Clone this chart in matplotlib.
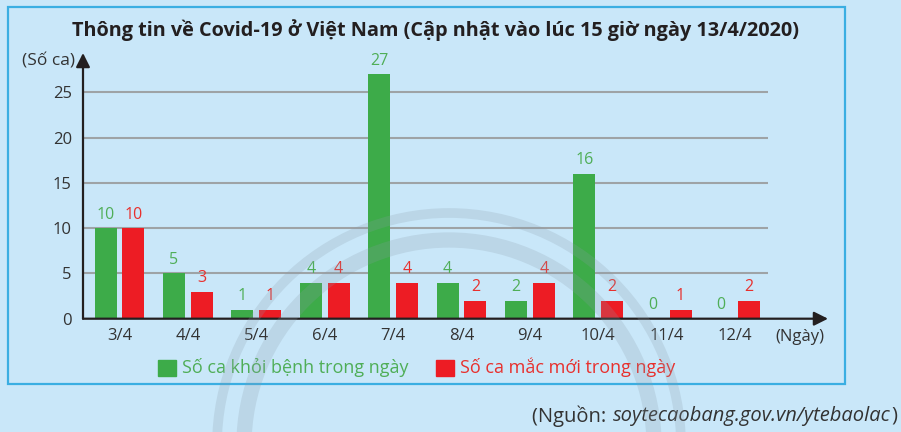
import matplotlib
matplotlib.use("Agg")
import matplotlib.pyplot as plt
import numpy as np
from matplotlib.patches import Rectangle, Circle

# Dữ liệu
days = ["3/4", "4/4", "5/4", "6/4", "7/4", "8/4", "9/4", "10/4", "11/4", "12/4"]
recovered = [10, 5, 1, 4, 27, 4, 2, 16, 0, 0]
new_cases = [10, 3, 1, 4, 4, 2, 4, 2, 1, 2]
y_ticks = [0, 5, 10, 15, 20, 25]

title = "Thông tin về Covid-19 ở Việt Nam (Cập nhật vào lúc 15 giờ ngày 13/4/2020)"
label_rec = "Số ca khỏi bệnh trong ngày"
label_new = "Số ca mắc mới trong ngày"

BG = "#c9e7f9"
GREEN = "#3dab49"
RED = "#ed1c24"
GREEN_TXT = "#4fae57"
RED_TXT = "#e8302d"
DARK = "#231f20"
TXT = "#333333"

plt.rcParams["font.family"] = ["Open Sans", "DejaVu Sans"]

W, H = 901, 432
fig = plt.figure(figsize=(W / 100, H / 100), dpi=100, facecolor=BG)


def fx(px):
    return px / W


def fy(py):
    return 1 - py / H


# vùng trục: x=0 tại nhóm đầu (px 119.5), 68.4 px / nhóm; y: 0 tại px 318.7, 9.05 px / ca
x0_px, step = 119.5, 68.4
left_px, right_px = 83, 830
y0_px, unit = 318.7, 9.05
top_px = 53
ax = fig.add_axes([fx(left_px), fy(y0_px), (right_px - left_px) / W, (y0_px - top_px) / H])
ax.set_facecolor("none")
ax.set_xlim((left_px - x0_px) / step, (right_px - x0_px) / step)
ax.set_ylim(0, (y0_px - top_px) / unit)
for s in ax.spines.values():
    s.set_visible(False)

x = np.arange(len(days))
bw = 22 / step
off = 13.9 / step

# đường lưới
grid_end = (768 - x0_px) / step
ax.hlines(y_ticks[1:], ax.get_xlim()[0], grid_end, color="#9ea3a6", lw=1.5, zorder=1)

ax.bar(x - off, recovered, bw, color=GREEN, zorder=3)
ax.bar(x + off, new_cases, bw, color=RED, zorder=3)

for xi, v in zip(x, recovered):
    ax.annotate(str(v), (xi - off, v), xytext=(0, 4), textcoords="offset points",
                ha="center", va="bottom", fontsize=11.5, color=GREEN_TXT, zorder=4)
for xi, v in zip(x, new_cases):
    ax.annotate(str(v), (xi + off, v), xytext=(0, 4), textcoords="offset points",
                ha="center", va="bottom", fontsize=11.5, color=RED_TXT, zorder=4)

# trục có mũi tên
xl = ax.get_xlim()[0]
ax.annotate("", xy=((828 - x0_px) / step, 0), xytext=(xl, 0),
            arrowprops=dict(arrowstyle="-|>,head_length=0.7,head_width=0.35", color=DARK,
                            lw=1.6, shrinkA=0, shrinkB=0, mutation_scale=12),
            annotation_clip=False, zorder=5)
ax.annotate("", xy=(xl, (y0_px - top_px) / unit), xytext=(xl, 0),
            arrowprops=dict(arrowstyle="-|>,head_length=0.7,head_width=0.35", color=DARK,
                            lw=1.6, shrinkA=0, shrinkB=0, mutation_scale=12),
            annotation_clip=False, zorder=5)

ax.set_yticks(y_ticks)
ax.set_yticklabels([str(t) for t in y_ticks], fontsize=12, color=TXT)
ax.set_xticks(x)
ax.set_xticklabels(days, fontsize=12, color=TXT)
ax.tick_params(axis="y", length=0, pad=8)
ax.tick_params(axis="x", length=0, pad=7)

fig.text(fx(75), fy(61), "(Số ca)", ha="right", va="center", fontsize=12.5, color=TXT)
fig.text(fx(775), fy(337), "(Ngày)", ha="left", va="center", fontsize=12, color=TXT)

fig.text(fx(435), fy(30), title, ha="center", va="center", fontsize=14.3,
         fontweight="bold", color=DARK)

# chú thích
fig.patches.append(Rectangle((fx(158), fy(376)), 18 / W, 16 / H, transform=fig.transFigure,
                             color=GREEN, figure=fig))
fig.text(fx(182), fy(367), label_rec, ha="left", va="center", fontsize=13, color=GREEN_TXT)
fig.patches.append(Rectangle((fx(436), fy(376)), 18 / W, 16 / H, transform=fig.transFigure,
                             color=RED, figure=fig))
fig.text(fx(460), fy(367), label_new, ha="left", va="center", fontsize=13, color=RED_TXT)

# khung viền
fig.patches.append(Rectangle((fx(8), fy(384)), (845 - 8) / W, (384 - 7) / H,
                             transform=fig.transFigure, fill=False, edgecolor="#3aaee2",
                             lw=1.6, figure=fig))

# hình mờ (logo nền)
for rad, lw in [(2.32, 7), (2.05, 11)]:
    wm = Circle((4.49, (H - 445) / 100), rad, transform=fig.dpi_scale_trans, fill=False,
                edgecolor="#8a9ba8", lw=lw, alpha=0.22, zorder=10)
    fig.artists.append(wm)
    wm.set_figure(fig)

# nguồn
r = fig.canvas.get_renderer()
sy = fy(416)
t3 = fig.text(fx(897), sy, ")", ha="right", va="center", fontsize=14.5, color=TXT)
w3 = t3.get_window_extent(r).width
t2 = fig.text(fx(897 - w3 - 0.5), sy, "soytecaobang.gov.vn/ytebaolac", ha="right",
              va="center", fontsize=14.5, color=TXT, style="italic")
w2 = t2.get_window_extent(r).width
fig.text(fx(897 - w3 - 0.5 - w2 - 1), sy, "(Nguồn: ", ha="right", va="center", fontsize=14.5,
         color=TXT)

fig.savefig("out.png", dpi=100, facecolor=BG)
